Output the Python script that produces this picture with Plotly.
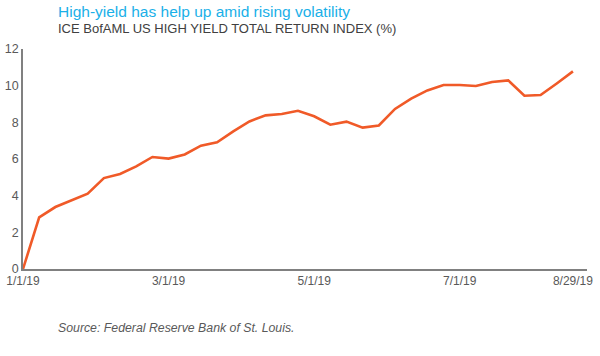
import plotly.graph_objects as go

dates = ["1/1/19", "1/8/19", "1/14/19", "1/21/19", "1/28/19", "2/4/19", "2/11/19", "2/18/19", "2/24/19",
         "3/1/19", "3/8/19", "3/15/19", "3/22/19", "3/29/19", "4/5/19", "4/12/19", "4/18/19", "4/25/19",
         "5/1/19", "5/8/19", "5/15/19", "5/22/19", "5/29/19", "6/5/19", "6/12/19", "6/18/19", "6/25/19",
         "7/1/19", "7/9/19", "7/17/19", "7/25/19", "8/2/19", "8/10/19", "8/19/19", "8/29/19"]
values = [0.0, 2.82, 3.38, 3.74, 4.11, 4.96, 5.18, 5.6, 6.11,
          6.02, 6.25, 6.73, 6.91, 7.51, 8.05, 8.38, 8.45, 8.63,
          8.33, 7.87, 8.04, 7.71, 7.83, 8.73, 9.29, 9.74, 10.04,
          10.04, 9.98, 10.2, 10.29, 9.45, 9.49, 10.12, 10.78]
tick_labels = ["1/1/19", "3/1/19", "5/1/19", "7/1/19", "8/29/19"]
y_ticks = [0, 2, 4, 6, 8, 10, 12]

title = "High-yield has help up amid rising volatility"
subtitle = "ICE BofAML US HIGH YIELD TOTAL RETURN INDEX (%)"
source = "Source: Federal Reserve Bank of St. Louis."

FONT = "Arial, Liberation Sans, sans-serif"
GRAY = "#595959"

fig = go.Figure(go.Scatter(
    x=dates, y=values, mode="lines",
    line=dict(color="#F05A28", width=2.6),
    hoverinfo="skip",
))

L, R, T, B = 23, 13, 49, 87
W, H = 600, 356
pw = W - L - R
ph = H - T - B

def px_to_paper_x(px):
    return (px - L) / pw

def px_to_paper_y(py):
    return (H - B - py) / ph

fig.update_layout(
    width=W, height=H,
    margin=dict(l=L, r=R, t=T, b=B),
    paper_bgcolor="white", plot_bgcolor="white",
    showlegend=False,
    font=dict(family=FONT, color=GRAY, size=12),
    xaxis=dict(
        type="category", range=[0, 34.87], automargin=False,
        tickmode="array", tickvals=tick_labels, ticktext=tick_labels,
        showline=True, linecolor="#808080", linewidth=1.5,
        showgrid=False, zeroline=False, ticks="",
        tickfont=dict(size=12, color=GRAY),
    ),
    yaxis=dict(
        range=[0, 12], tickvals=y_ticks, automargin=False,
        showline=True, linecolor="#808080", linewidth=1.5,
        showgrid=False, zeroline=False, ticks="",
        tickfont=dict(size=12.5, color=GRAY),
    ),
    annotations=[
        dict(text=title, xref="paper", yref="paper",
             x=px_to_paper_x(56), y=px_to_paper_y(12), xanchor="left", yanchor="middle",
             showarrow=False, font=dict(size=15.5, color="#1AB0E8", family=FONT)),
        dict(text=subtitle, xref="paper", yref="paper",
             x=px_to_paper_x(56), y=px_to_paper_y(28), xanchor="left", yanchor="middle",
             showarrow=False, font=dict(size=13, color="#404040", family=FONT)),
        dict(text="<i>" + source + "</i>", xref="paper", yref="paper",
             x=px_to_paper_x(56), y=px_to_paper_y(328), xanchor="left", yanchor="middle",
             showarrow=False, font=dict(size=12.3, color=GRAY, family=FONT)),
    ],
)

fig.write_html("out.html", config={"displayModeBar": False},
               post_script="document.body.style.margin='0';")
